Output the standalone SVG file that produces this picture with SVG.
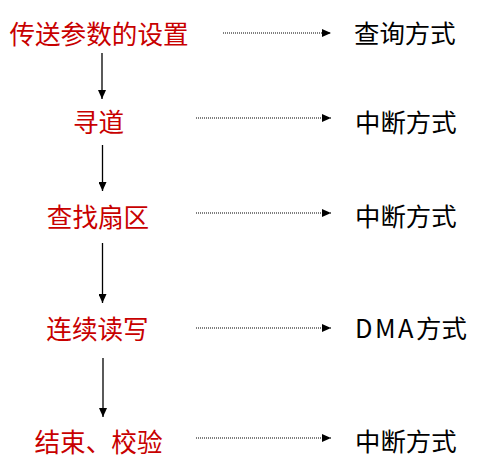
<svg xmlns="http://www.w3.org/2000/svg" width="484" height="468" viewBox="0 0 484 468">
<style>
.step{font-family:"Noto Sans CJK SC","Noto Sans",sans-serif;font-size:25.6px;fill:#C80000;text-anchor:middle;dominant-baseline:central}
.mode{font-family:"Noto Sans CJK SC","Noto Sans",sans-serif;font-size:25.4px;fill:#000;text-anchor:start;dominant-baseline:central}
.solid{stroke:#000;stroke-width:1.3;fill:none}
.dot{stroke:#000;stroke-width:1.2;stroke-dasharray:1 1;fill:none}
</style>
<defs>
<marker id="ah" markerWidth="10" markerHeight="8" refX="9" refY="4" orient="auto" markerUnits="userSpaceOnUse">
<path d="M0,0 L9,4 L0,8 Z" fill="#000"/>
</marker>
</defs>
<rect width="484" height="468" fill="#fff"/>
<g id="connectors">
<line class="solid" x1="102" y1="53" x2="102" y2="99" marker-end="url(#ah)"/>
<line class="solid" x1="102.5" y1="145" x2="102.5" y2="191" marker-end="url(#ah)"/>
<line class="solid" x1="102.5" y1="243" x2="102.5" y2="303" marker-end="url(#ah)"/>
<line class="solid" x1="103" y1="358" x2="103" y2="417" marker-end="url(#ah)"/>
<line class="dot" x1="223" y1="33" x2="331" y2="33" marker-end="url(#ah)"/>
<line class="dot" x1="196" y1="118" x2="331" y2="118" marker-end="url(#ah)"/>
<line class="dot" x1="196" y1="213" x2="331" y2="213" marker-end="url(#ah)"/>
<line class="dot" x1="196" y1="328" x2="331" y2="328" marker-end="url(#ah)"/>
<line class="dot" x1="196" y1="438" x2="331" y2="438" marker-end="url(#ah)"/>
</g>
<g id="step1"><text class="step" x="99" y="32">传送参数的设置</text></g>
<g id="step2"><text class="step" x="98.5" y="120">寻道</text></g>
<g id="step3"><text class="step" x="98" y="215">查找扇区</text></g>
<g id="step4"><text class="step" x="97.5" y="327">连续读写</text></g>
<g id="step5"><text class="step" x="98.5" y="440">结束、校验</text></g>
<g id="mode1"><text class="mode" x="354" y="32">查询方式</text></g>
<g id="mode2"><text class="mode" x="355" y="121">中断方式</text></g>
<g id="mode3"><text class="mode" x="355" y="215">中断方式</text></g>
<g id="mode4"><text class="mode" x="355" y="327"><tspan letter-spacing="2.5">DMA</tspan>方式</text></g>
<g id="mode5"><text class="mode" x="355" y="440">中断方式</text></g>
</svg>
